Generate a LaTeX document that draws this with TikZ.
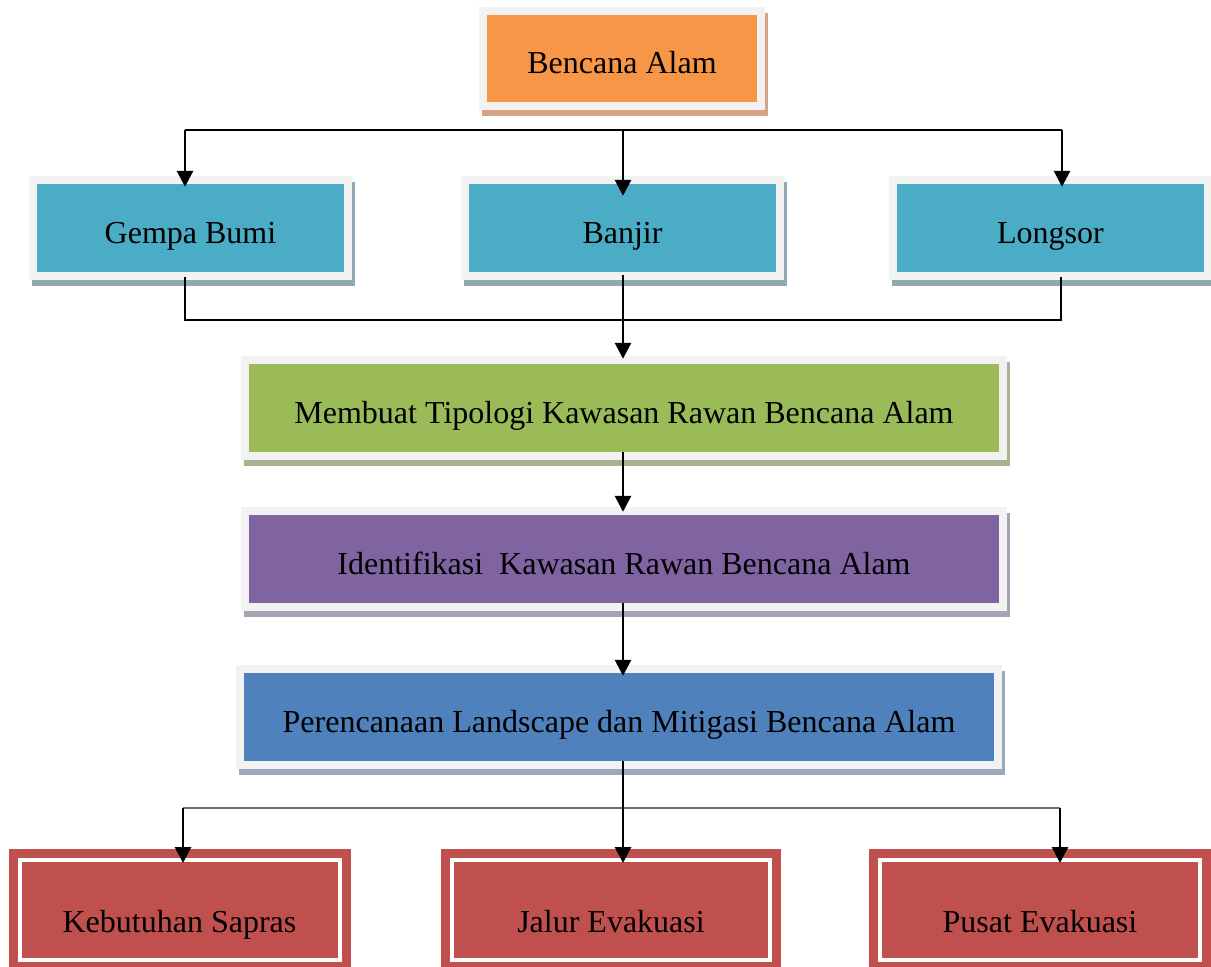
\documentclass[tikz,border=0pt]{standalone}
\usepackage{fontspec}
\setmainfont{Liberation Serif}
\usetikzlibrary{arrows.meta,calc}
\definecolor{framec}{HTML}{F2F2F2}
\definecolor{orangec}{HTML}{F79646}
\definecolor{orangesh}{HTML}{D4A584}
\definecolor{aquac}{HTML}{4BACC6}
\definecolor{aquash}{HTML}{8EA9B1}
\definecolor{greenc}{HTML}{9BBB59}
\definecolor{greensh}{HTML}{AAB391}
\definecolor{purplec}{HTML}{8064A2}
\definecolor{purplesh}{HTML}{A9A2B4}
\definecolor{bluec}{HTML}{4F81BD}
\definecolor{bluesh}{HTML}{9BA9BC}
\definecolor{redc}{HTML}{C0504D}
\definecolor{graylinec}{HTML}{6E6E6E}
\tikzset{
  box/.style={draw=none, inner sep=0pt, text height=30pt, text depth=0pt,
    font=\fontsize{32}{38}\selectfont},
  redbox/.style={inner sep=0pt, text height=44pt, text depth=0pt,
    font=\fontsize{32}{38}\selectfont, minimum height=100pt,
    preaction={draw=redc, line width=22pt}, fill=redc, draw=white, line width=4pt},
  arr/.style={line width=2.8pt, -{Triangle[length=16pt,width=16pt]}},
  thinline/.style={line width=1.2pt, draw=black},
}
% name, x1, y1, x2, y2, fill, shadow, text
\newcommand\shadedbox[8]{%
  \fill[#7] (#2-8+3,#3-8+6) rectangle (#4+8+3,#5+8+6);
  \fill[framec] (#2-8,#3-8) rectangle (#4+8,#5+8);
  \node[box, fill=#6, minimum width={(#4-#2)*1pt}, minimum height={(#5-#3)*1pt}]
    (#1) at ({(#2+#4)/2},{(#3+#5)/2}) {#8};
}
\begin{document}
\begin{tikzpicture}[x=1pt,y=-1pt]
\useasboundingbox (0,0) rectangle (1211,967);
\fill[white] (0,0) rectangle (1211,967);

\shadedbox{bencana}{487}{15}{757}{102}{orangec}{orangesh}{Bencana Alam}
\shadedbox{gempa}{37}{184}{344}{272}{aquac}{aquash}{Gempa Bumi}
\shadedbox{banjir}{469}{184}{776}{272}{aquac}{aquash}{Banjir}
\shadedbox{longsor}{897}{184}{1204}{272}{aquac}{aquash}{Longsor}
\shadedbox{tipologi}{249}{364}{999}{452}{greenc}{greensh}{Membuat Tipologi Kawasan Rawan Bencana Alam}
\shadedbox{identifikasi}{249}{515}{999}{603}{purplec}{purplesh}{Identifikasi\ \ Kawasan Rawan Bencana Alam}
\shadedbox{perencanaan}{244}{673}{994}{761}{bluec}{bluesh}{Perencanaan Landscape dan Mitigasi Bencana Alam}

\node[redbox, minimum width=320pt] (sapras) at (179.5,910) {Kebutuhan Sapras};
\node[redbox, minimum width=318pt] (jalur) at (611,910) {Jalur Evakuasi};
\node[redbox, minimum width=320pt] (pusat) at (1040,910) {Pusat Evakuasi};

% top distribution
\coordinate (t1) at (185,130);
\coordinate (t2) at (623,130);
\coordinate (t3) at (1062,130);
\draw[thinline] (t1) -- (t3);
\draw[arr] (t1) -- ($(t1 |- gempa.north)+(0,3)$);
\draw[arr] (t2) -- ($(t2 |- banjir.north)+(0,12)$);
\draw[arr] (t3) -- ($(t3 |- longsor.north)+(0,3)$);

% collecting line under row 2
\coordinate (m1) at (185,320);
\coordinate (m3) at (1061,320);
\draw[thinline] ($(m1 |- gempa.south)+(0,5)$) -- (m1) -- (m3) -- ($(m3 |- longsor.south)+(0,5)$);
\draw[arr] ($(t2 |- banjir.south)+(0,3)$) -- ($(t2 |- tipologi.north)+(0,-5)$);

% vertical chain
\draw[arr] (t2 |- tipologi.south) -- ($(t2 |- identifikasi.north)+(0,-3)$);
\draw[arr] (t2 |- identifikasi.south) -- ($(t2 |- perencanaan.north)+(0,3)$);

% bottom distribution
\coordinate (b1) at (183,808);
\coordinate (b2) at (623,808);
\coordinate (b3) at (1060,808);
\draw[line width=1.2pt, graylinec] (b1) -- (b3);
\draw[arr] (b2 |- perencanaan.south) -- ($(b2 |- jalur.north)+(0,5)$);
\draw[arr] (b1) -- ($(b1 |- sapras.north)+(0,5)$);
\draw[arr] (b3) -- ($(b3 |- pusat.north)+(0,5)$);
\end{tikzpicture}
\end{document}
